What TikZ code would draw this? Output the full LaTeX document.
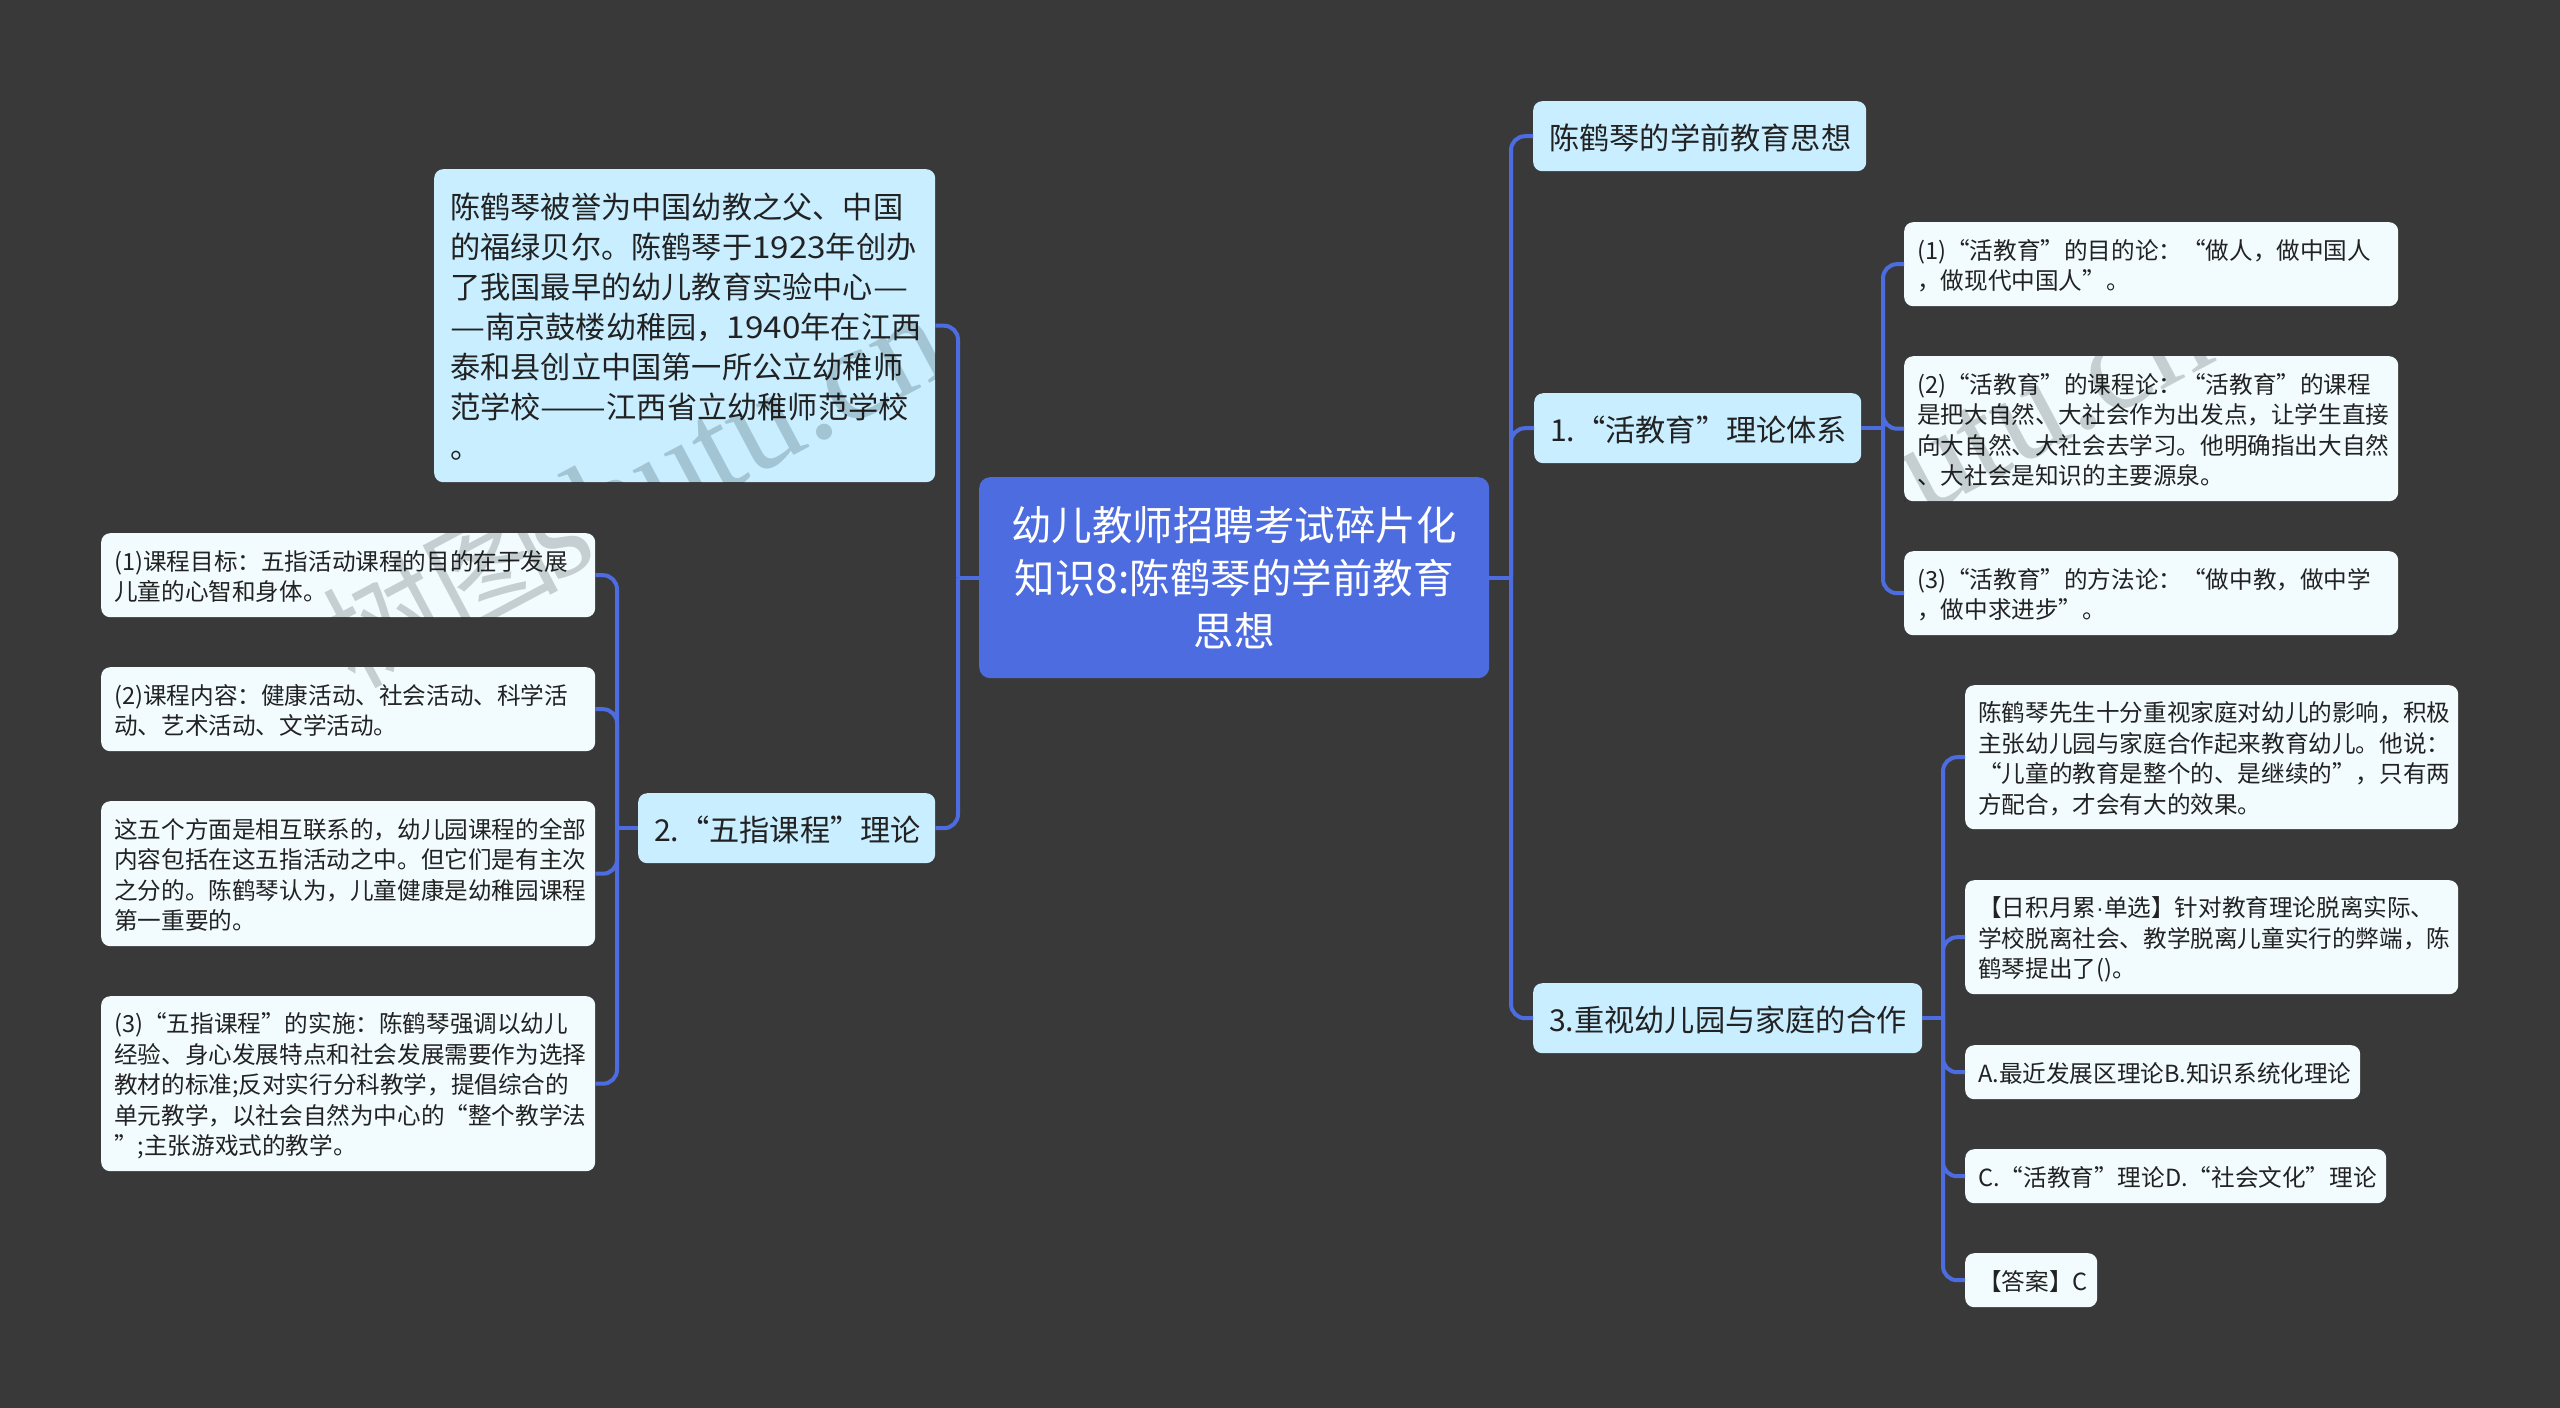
\documentclass[tikz,border=0pt]{standalone}
\usepackage{fontspec}
\usepackage{graphicx}
\setmainfont{Noto Sans CJK SC}
\newfontfamily\wmlatin{Liberation Serif}
\newfontfamily\dotfont{Liberation Sans}
\newcommand{\widen}[2]{\scalebox{#1}[1]{#2}}
\definecolor{bgc}{HTML}{3A393A}
\definecolor{rootc}{HTML}{4C6CE0}
\definecolor{lineC}{HTML}{4C6CE0}
\definecolor{skyc}{HTML}{C8EEFF}
\definecolor{palec}{HTML}{F2FCFF}
\definecolor{inkc}{HTML}{222222}
\definecolor{wmc}{HTML}{D0D2D2}
\tikzset{
  boxbase/.style={anchor=north west, inner ysep=0pt, align=left, text=inkc,
    execute at begin node={\rule{0pt}{1.06em}}, execute at end node={\rule[-0.2em]{0pt}{0.2em}}},
  wh/.style 2 args={minimum width=#1pt, minimum height=#2pt},
  rootbox/.style={anchor=north west, fill=rootc, rounded corners=11pt, text=white, align=center,
    inner sep=0pt, font=\fontsize{40.5}{53}\selectfont},
  midbox/.style={boxbase, fill=skyc, rounded corners=9pt, inner xsep=16pt, font=\fontsize{30.2}{40}\selectfont},
  leafbox/.style={boxbase, fill=palec, rounded corners=9pt, inner xsep=13pt, font=\fontsize{23.6}{30.5}\selectfont},
  conn/.style={draw=lineC, line width=4pt, rounded corners=14pt},
  stem/.style={draw=lineC, line width=4pt},
  wmark/.style={text=wmc, font=\fontsize{118}{118}\selectfont, inner sep=0pt, blend mode=multiply, rotate=28, anchor=base east},
}
\begin{document}
\begin{tikzpicture}[x=1pt,y=-1pt]
\useasboundingbox (0,0) rectangle (2560,1408);
\fill[bgc] (0,0) rectangle (2560,1408);

% trunks
\coordinate (lt) at (958,577);
\coordinate (rt) at (1511,577);
\coordinate (bt) at (1883,428);
\coordinate (ct) at (1943,1018);
\coordinate (dt) at (617,828);

% root
\node[rootbox, wh={510}{201}, text width=490pt] (root) at (979,477) {幼儿教师招聘考试碎片化\\知识8:陈鹤琴的学前教育\\思想};

% right
\node[midbox, wh={333}{70}, text width=301pt] (a) at (1533,101) {陈鹤琴的学前教育思想};
\node[midbox, wh={327}{70}, text width=295pt] (b) at (1534,393) {1.“活教育”理论体系};
\node[midbox, wh={389}{70}, text width=357pt] (c) at (1533,983) {3.重视幼儿园与家庭的合作};

\node[leafbox, wh={494}{84}, text width=468pt] (b1) at (1904,222) {(1)“活教育”的目的论：“做人，做中国人\\，做现代中国人”。};
\node[leafbox, wh={494}{145}, text width=468pt] (b2) at (1904,356) {(2)“活教育”的课程论：“活教育”的课程\\是把大自然、大社会作为出发点，让学生直接\\向大自然、大社会去学习。他明确指出大自然\\、大社会是知识的主要源泉。};
\node[leafbox, wh={494}{84}, text width=468pt] (b3) at (1904,551) {(3)“活教育”的方法论：“做中教，做中学\\，做中求进步”。};

\node[leafbox, wh={493}{144}, text width=467pt] (c1) at (1965,685) {陈鹤琴先生十分重视家庭对幼儿的影响，积极\\主张幼儿园与家庭合作起来教育幼儿。他说：\\“儿童的教育是整个的、是继续的”，只有两\\方配合，才会有大的效果。};
\node[leafbox, wh={493}{114}, text width=467pt] (c2) at (1965,880) {【日积月累{\dotfont ·}单选】针对教育理论脱离实际、\\学校脱离社会、教学脱离儿童实行的弊端，陈\\鹤琴提出了()。};
\node[leafbox, wh={395}{54}, text width=369pt] (c3) at (1965,1045) {A.最近发展区理论B.知识系统化理论};
\node[leafbox, wh={421}{54}, text width=395pt] (c4) at (1965,1149) {C.“活教育”理论D.“社会文化”理论};
\node[leafbox, wh={132}{54}, text width=106pt] (c5) at (1965,1253) {【答案】C};

% left
\node[midbox, wh={501}{313}, text width=469pt] (d0) at (434,169) {陈鹤琴被誉为中国幼教之父、中国\\的福绿贝尔。陈鹤琴于\widen{1.1}{1923}年创办\\了我国最早的幼儿教育实验中心\widen{1.3}{—}\\\widen{1.3}{—}南京鼓楼幼稚园，\widen{1.1}{1940}年在江西\\泰和县创立中国第一所公立幼稚师\\范学校\widen{1.3}{——}江西省立幼稚师范学校\\。};
\node[midbox, wh={297}{70}, text width=265pt] (d) at (638,793) {2.“五指课程”理论};

\node[leafbox, wh={494}{84}, text width=468pt] (d1) at (101,533) {(1)课程目标：五指活动课程的目的在于发展\\儿童的心智和身体。};
\node[leafbox, wh={494}{84}, text width=468pt] (d2) at (101,667) {(2)课程内容：健康活动、社会活动、科学活\\动、艺术活动、文学活动。};
\node[leafbox, wh={494}{145}, text width=468pt] (d3) at (101,801) {这五个方面是相互联系的，幼儿园课程的全部\\内容包括在这五指活动之中。但它们是有主次\\之分的。陈鹤琴认为，儿童健康是幼稚园课程\\第一重要的。};
\node[leafbox, wh={494}{175}, text width=468pt] (d4) at (101,996) {(3)“五指课程”的实施：陈鹤琴强调以幼儿\\经验、身心发展特点和社会发展需要作为选择\\教材的标准;反对实行分科教学，提倡综合的\\单元教学，以社会自然为中心的“整个教学法\\”;主张游戏式的教学。};

% stems
\draw[stem] (root.west) -- (root.west -| lt);
\draw[stem] (root.east) -- (root.east -| rt);
\draw[stem] (b.east) -- (b.east -| bt);
\draw[stem] (c.east) -- (c.east -| ct);
\draw[stem] (d.west) -- (d.west -| dt);
% branches
\foreach \t in {a,b,c} \draw[conn] (root.east -| rt) |- (\t.west);
\foreach \t in {d0,d} \draw[conn] (root.west -| lt) |- (\t.east);
\foreach \t in {b1,b2,b3} \draw[conn] (b.east -| bt) |- (\t.west);
\foreach \t in {c1,c2,c3,c4,c5} \draw[conn] (c.east -| ct) |- (\t.west);
\foreach \t in {d1,d2,d3,d4} \draw[conn] (d.west -| dt) |- (\t.east);

% watermarks, only visible on the light boxes
\begin{scope}
\clip (d0.north west) rectangle (d0.south east)
      (d1.north west) rectangle (d1.south east)
      (d2.north west) rectangle (d2.south east)
      (b2.north west) rectangle (b2.south east)
      (b1.north west) rectangle (b1.south east)
      (b3.north west) rectangle (b3.south east);
\node[wmark] (w1) at (955,370) {树图\kern-10pt{\wmlatin\fontsize{135}{135}\selectfont shutu.cn}};
\node[wmark] (w2) at (2219,360) {树图\kern-10pt{\wmlatin\fontsize{135}{135}\selectfont shutu.cn}};
\end{scope}
\end{tikzpicture}
\end{document}
